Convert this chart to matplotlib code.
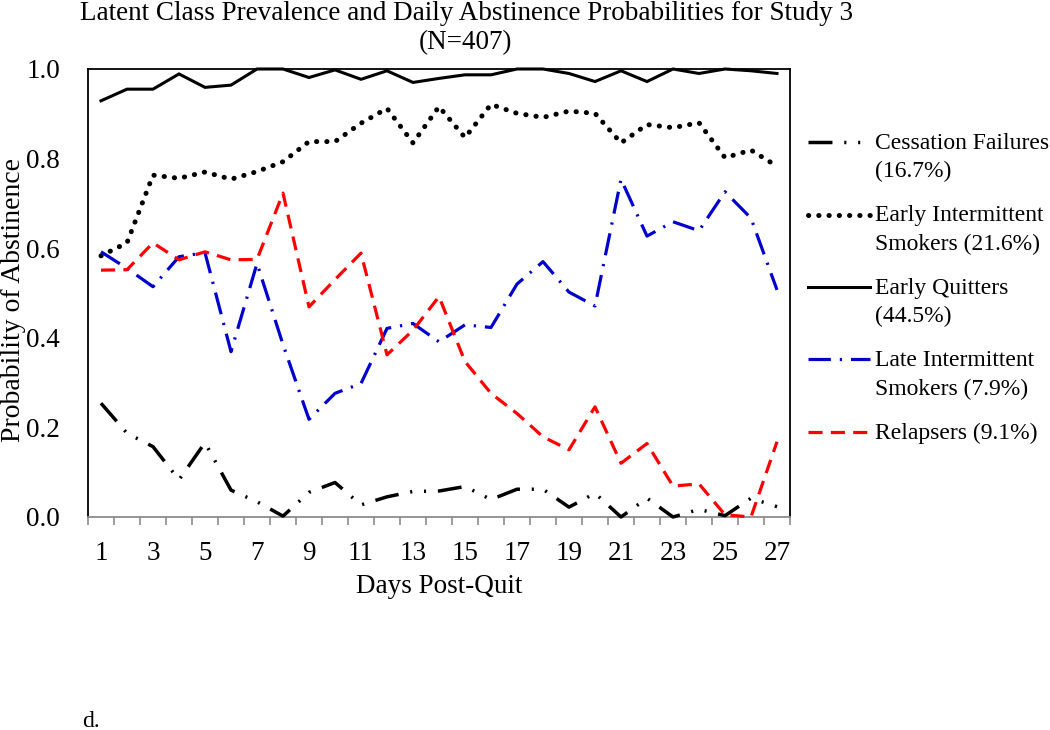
import matplotlib.pyplot as plt
from matplotlib.lines import Line2D

plt.rcParams['font.family'] = ['Liberation Serif', 'DejaVu Serif']

days = list(range(1, 28))

cessation_failures = [0.254, 0.187, 0.157, 0.083, 0.166, 0.060, 0.034, 0.002, 0.055,
                      0.077, 0.027, 0.045, 0.057, 0.058, 0.068, 0.039, 0.062, 0.062,
                      0.022, 0.053, 0.000, 0.042, 0.000, 0.017, 0.003, 0.042, 0.023]
early_intermittent = [0.583, 0.612, 0.763, 0.756, 0.770, 0.754, 0.771, 0.793, 0.838,
                      0.838, 0.879, 0.912, 0.835, 0.916, 0.847, 0.921, 0.901, 0.892,
                      0.906, 0.901, 0.835, 0.876, 0.869, 0.880, 0.802, 0.819, 0.783]
early_quitters = [0.929, 0.955, 0.955, 0.989, 0.959, 0.964, 1.000, 1.000, 0.981,
                  0.998, 0.977, 0.996, 0.970, 0.979, 0.987, 0.987, 1.000, 1.000,
                  0.990, 0.972, 0.996, 0.972, 1.000, 0.990, 1.000, 0.996, 0.990]
late_intermittent = [0.592, 0.555, 0.514, 0.581, 0.590, 0.369, 0.566, 0.385, 0.218,
                     0.276, 0.298, 0.421, 0.432, 0.391, 0.429, 0.423, 0.520, 0.570,
                     0.502, 0.471, 0.754, 0.627, 0.659, 0.639, 0.726, 0.667, 0.507]
relapsers = [0.551, 0.552, 0.612, 0.574, 0.592, 0.574, 0.575, 0.723, 0.469,
             0.530, 0.589, 0.362, 0.417, 0.492, 0.347, 0.276, 0.231, 0.179,
             0.150, 0.246, 0.120, 0.164, 0.069, 0.074, 0.005, 0.000, 0.168]

series = [cessation_failures, early_intermittent, early_quitters,
          late_intermittent, relapsers]
labels = ["Cessation Failures\n(16.7%)",
          "Early Intermittent\nSmokers (21.6%)",
          "Early Quitters\n(44.5%)",
          "Late Intermittent\nSmokers (7.9%)",
          "Relapsers (9.1%)"]

y_ticks = [0.0, 0.2, 0.4, 0.6, 0.8, 1.0]
y_ticklabels = ["0.0", "0.2", "0.4", "0.6", "0.8", "1.0"]

# line styles: colour, width, dash pattern (in linewidth units), cap style
styles = [
    dict(color="black", lw=2.5, dashes=(6.9, 3.4, 0.6, 3.4, 0.6, 3.4), cap="butt"),
    dict(color="black", lw=3.6, dashes=(0.05, 2.0), cap="round"),
    dict(color="black", lw=2.2, dashes=None, cap="butt"),
    dict(color="#0000CC", lw=2.3, dashes=(7.0, 2.8, 0.7, 2.8), cap="butt"),
    dict(color="#FF0000", lw=2.3, dashes=(4.4, 2.6), cap="butt"),
]

W, H = 1050, 730
fig = plt.figure(figsize=(W / 100, H / 100), dpi=100)
ax = fig.add_axes([88 / W, 1 - 517 / H, (790 - 88) / W, (517 - 69) / H])

for vals, st in zip(series, styles):
    line, = ax.plot(days, vals, color=st["color"], lw=st["lw"], clip_on=False,
                    solid_joinstyle="miter", dash_capstyle=st["cap"], zorder=3)
    if st["dashes"] is not None:
        line.set_dashes(st["dashes"])

ax.set_xlim(0.5, 27.5)
ax.set_ylim(0, 1)

ax.set_xticks(range(1, 28, 2))
ax.set_xticks([d + 0.5 for d in range(0, 28)], minor=True)
ax.tick_params(axis="x", which="major", length=0, pad=17, labelsize=19.5)
ax.tick_params(axis="x", which="minor", length=6, width=1.2, color="#8c8c8c",
               direction="out")
ax.set_yticks(y_ticks)
ax.set_yticklabels(y_ticklabels)
ax.tick_params(axis="y", length=0, pad=20, labelsize=19.5)

for side in ["top", "left", "right"]:
    ax.spines[side].set_color("black")
    ax.spines[side].set_linewidth(1.3)
ax.spines["bottom"].set_color("#8c8c8c")
ax.spines["bottom"].set_linewidth(1.3)

ax.set_xlabel("Days Post-Quit", fontsize=19.5, labelpad=6)

fig.text(14 / W, 1 - 300 / H, "Probability of Abstinence", rotation=90,
         ha="center", va="center", fontsize=20)

fig.text(466 / W, 1 - 20 / H,
         "Latent Class Prevalence and Daily Abstinence Probabilities for Study 3",
         ha="center", va="baseline", fontsize=19.5)
fig.text(466 / W, 1 - 49 / H, "(N=407)", ha="center", va="baseline", fontsize=19.5)

# legend drawn by hand so the sample line sits on the first text line
for i, (lab, st) in enumerate(zip(labels, styles)):
    y = 1 - (142 + 72.5 * i) / H
    h = Line2D([808 / W, 870 / W], [y, y], transform=fig.transFigure,
               color=st["color"], lw=st["lw"], dash_capstyle=st["cap"])
    if st["dashes"] is not None:
        h.set_dashes(st["dashes"])
    fig.add_artist(h)
    fig.text(875 / W, y + 9 / H, lab, ha="left", va="top", fontsize=17,
             linespacing=1.45)

fig.text(82 / W, 1 - 727 / H, "d.", ha="left", va="baseline", fontsize=17)

fig.savefig("out.png", dpi=100)
